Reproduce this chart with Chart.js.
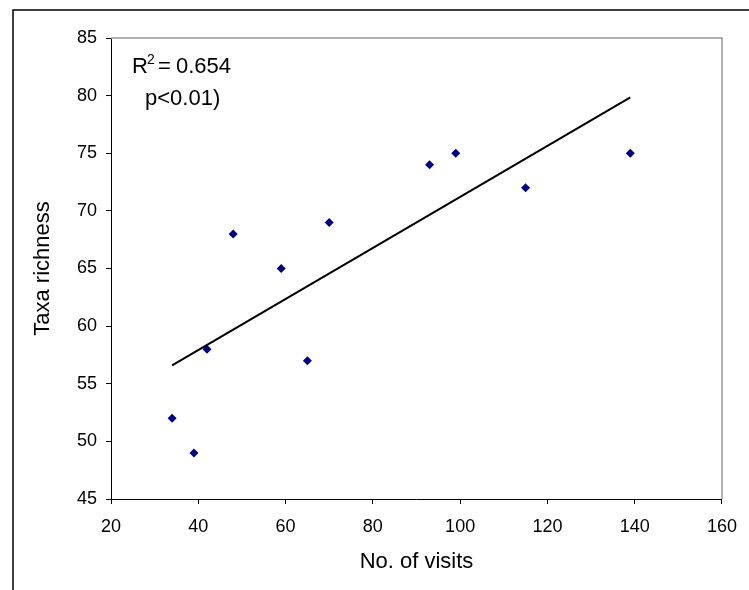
<!DOCTYPE html>
<html>
<head>
<meta charset="utf-8">
<script src="https://cdn.jsdelivr.net/npm/chart.js@4"></script>
<style>
  body { margin: 0; background: #fff; }
</style>
</head>
<body>
<canvas id="chart" width="749" height="590"></canvas>
<script>
// visits vs taxa richness
const visits = [34, 39, 42, 48, 59, 65, 70, 93, 99, 115, 139];
const richness = [52, 49, 58, 68, 65, 57, 69, 74, 75, 72, 75];
// fitted line ends
const fitX = [34, 139];
const fitY = [56.6, 79.85];
const xTicks = [20, 40, 60, 80, 100, 120, 140, 160];
const yTicks = [45, 50, 55, 60, 65, 70, 75, 80, 85];

const points = visits.map((v, i) => ({x: v, y: richness[i]}));
const fit = fitX.map((v, i) => ({x: v, y: fitY[i]}));

const FONT = '"Liberation Sans", Arial, sans-serif';

const frame = {
  id: 'frame',
  beforeDraw(chart) {
    const c = chart.ctx;
    c.save();
    c.fillStyle = '#fff';
    c.fillRect(0, 0, chart.width, chart.height);
    c.strokeStyle = '#000';
    c.lineWidth = 1.5;
    c.strokeRect(13, 10, 800, 700);
    c.restore();
  },
  beforeDatasetsDraw(chart) {
    // grey top and right edge of the plot area
    const a = chart.chartArea;
    const c = chart.ctx;
    c.save();
    c.strokeStyle = '#999';
    c.lineWidth = 1.5;
    c.beginPath();
    c.moveTo(a.left, a.top);
    c.lineTo(a.right, a.top);
    c.lineTo(a.right, a.bottom);
    c.stroke();
    c.restore();
  },
  afterDraw(chart) {
    const c = chart.ctx;
    c.save();
    c.fillStyle = '#000';
    c.textBaseline = 'alphabetic';
    c.font = '22px ' + FONT;
    c.fillText('R', 132, 73);
    c.font = '14px ' + FONT;
    c.fillText('2', 147, 64);
    c.font = '22px ' + FONT;
    c.fillText('=', 158, 73);
    c.fillText('0.654', 176, 73);
    c.fillText('p<0.01)', 145, 105);
    c.restore();
  }
};

new Chart(document.getElementById('chart'), {
  type: 'scatter',
  data: {
    datasets: [
      {
        label: 'Linear fit',
        data: fit,
        showLine: true,
        borderColor: '#000',
        borderWidth: 2,
        pointRadius: 0,
        fill: false,
      },
      {
        label: 'Sites',
        data: points,
        pointStyle: 'rectRot',
        pointRadius: 4.5,
        borderWidth: 0,
        backgroundColor: '#000080',
        borderColor: '#000080',
      }
    ]
  },
  options: {
    responsive: false,
    animation: false,
    layout: { padding: { top: 38, right: 20, left: 0, bottom: 0 } },
    plugins: {
      legend: { display: false },
      tooltip: { enabled: false },
    },
    scales: {
      x: {
        type: 'linear',
        min: 20,
        max: 160,
        afterFit: s => { s.height = 91; },
        afterBuildTicks: s => { s.ticks = xTicks.map(v => ({value: v})); },
        grid: { drawOnChartArea: false, drawTicks: true, tickLength: 5, color: '#000' },
        border: { display: true, color: '#000', width: 1 },
        ticks: { color: '#000', padding: 12, font: { size: 18, family: FONT } },
        title: {
          display: true,
          text: 'No. of visits',
          color: '#000',
          font: { size: 22, family: FONT },
          padding: { top: 0, bottom: 15 }
        }
      },
      y: {
        min: 45,
        max: 85,
        afterFit: s => { s.width = 111; },
        afterBuildTicks: s => { s.ticks = yTicks.map(v => ({value: v})); },
        grid: { drawOnChartArea: false, drawTicks: true, tickLength: 5, color: '#000' },
        border: { display: true, color: '#000', width: 1 },
        ticks: { color: '#000', padding: 9, font: { size: 18, family: FONT } },
        title: {
          display: true,
          text: 'Taxa richness',
          color: '#000',
          font: { size: 22, family: FONT },
          padding: { top: 30, bottom: 0 }
        }
      }
    }
  },
  plugins: [frame]
});
</script>
</body>
</html>
